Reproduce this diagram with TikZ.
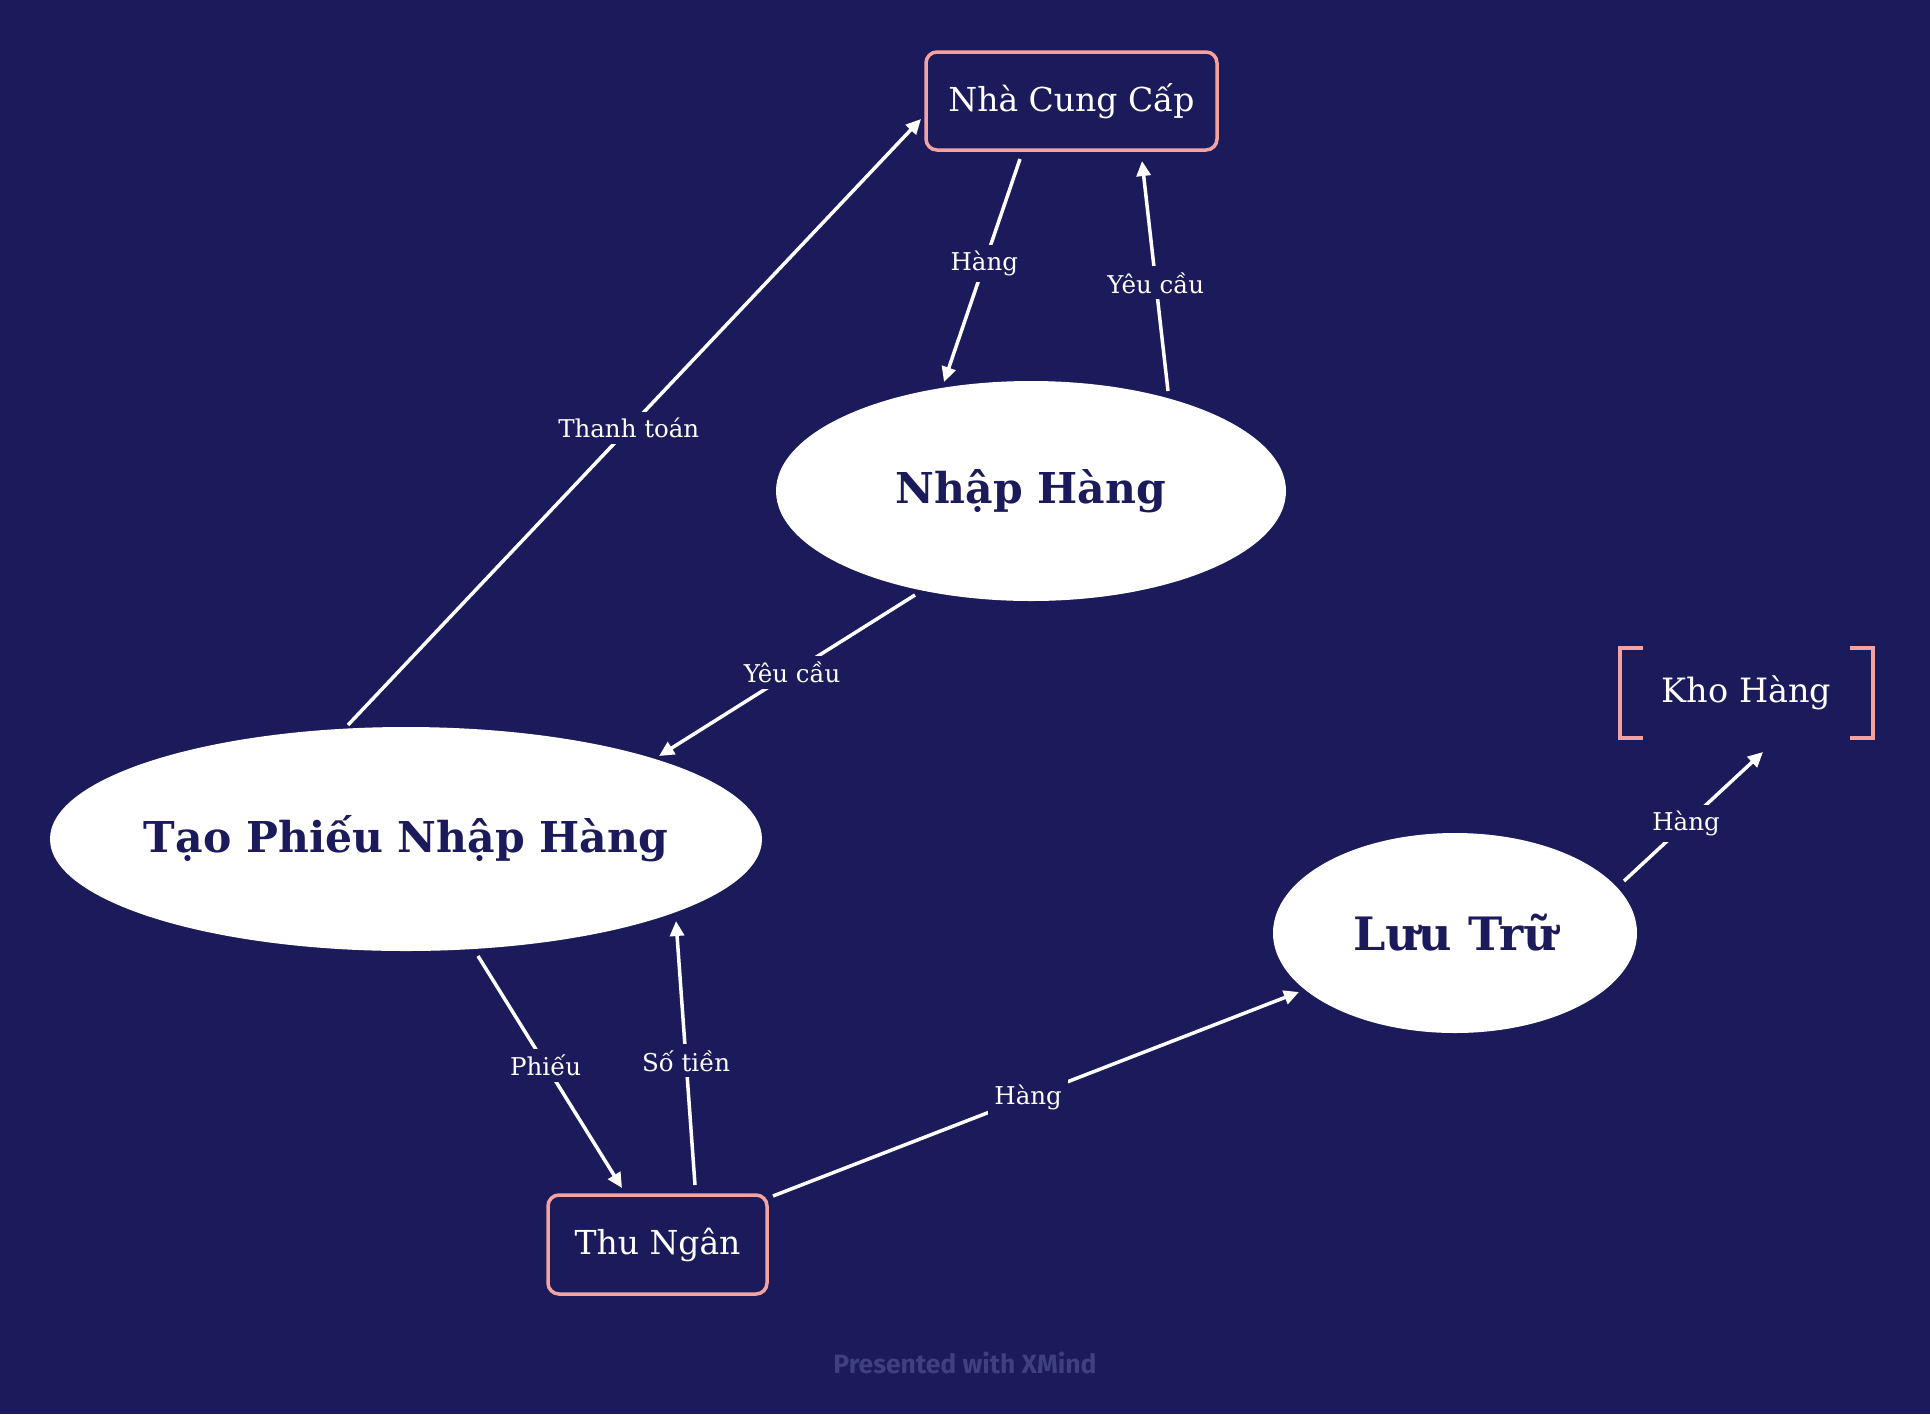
\documentclass[tikz,border=0pt]{standalone}
\usepackage{fontspec}
\setmainfont{DejaVu Serif}
\newfontfamily\wmfont{Fira Sans}
\usetikzlibrary{arrows.meta,shapes.geometric}
\definecolor{bgc}{RGB}{27,26,90}
\definecolor{pinkc}{RGB}{245,162,162}
\definecolor{wmc}{RGB}{62,64,128}
\begin{document}
\begin{tikzpicture}[x=1pt,y=-1pt,
  ell/.style={ellipse,fill=white,draw=none,inner sep=0pt,text=bgc,font=\fontsize{42.5}{50}\selectfont\bfseries},
  box/.style={rectangle,rounded corners=11pt,draw=pinkc,line width=3.5pt,fill=bgc,text=white,inner sep=0pt,font=\fontsize{33}{40}\selectfont},
  kho/.style={rectangle,draw=none,text=white,inner sep=0pt,font=\fontsize{33.5}{40}\selectfont},
  bracket/.style={draw=pinkc,line width=3.5pt},
  edge/.style={draw=white,line width=3.5pt,-{Triangle[length=15pt,width=14pt]}},
  lbl/.style={fill=bgc,text=white,inner sep=6pt,font=\fontsize{24.5}{29}\selectfont}]
\useasboundingbox (0,0) rectangle (1930,1414);
\fill[bgc] (0,0) rectangle (1930,1414);

\node[ell,minimum width=712pt,minimum height=224pt] (tao) at (406,839) {\makebox[0pt]{Tạo Phiếu Nhập Hàng}};
\node[ell,minimum width=510pt,minimum height=220pt] (nhap) at (1031,491) {\makebox[0pt]{Nhập Hàng}};
\node[ell,minimum width=364pt,minimum height=200pt,font=\fontsize{46}{54}\selectfont\bfseries] (luu) at (1455,933) {\makebox[0pt]{Lưu Trữ}};
\node[box,minimum width=291pt,minimum height=98pt] (ncc) at (1071.5,101) {Nhà Cung Cấp};
\node[box,minimum width=219pt,minimum height=99pt] (thu) at (657.5,1244.5) {Thu Ngân};
\node[kho,minimum width=253pt,minimum height=90pt] (kho) at (1746.5,693) {Kho Hàng};

\draw[bracket] ([xshift=23pt]kho.north west) -- (kho.north west) -- (kho.south west) -- ([xshift=23pt]kho.south west);
\draw[bracket] ([xshift=-23pt]kho.north east) -- (kho.north east) -- (kho.south east) -- ([xshift=-23pt]kho.south east);

\draw[edge] ([shift={(-58,-114)}]tao.center) -- node[lbl,pos=0.49]{Thanh toán} ([shift={(-150.5,18)}]ncc.center);
\draw[edge] ([shift={(-51.5,58)}]ncc.center) -- node[lbl,pos=0.47]{Hàng} ([shift={(-87,-109)}]nhap.center);
\draw[edge] ([shift={(137,-100)}]nhap.center) -- node[lbl,pos=0.47]{Yêu cầu} ([shift={(70.5,60)}]ncc.center);
\draw[edge] ([shift={(-116,104)}]nhap.center) -- node[lbl,pos=0.48]{Yêu cầu} ([shift={(253,-83)}]tao.center);
\draw[edge] ([shift={(72,117)}]tao.center) -- node[lbl,pos=0.47]{Phiếu} ([shift={(-35.5,-56.5)}]thu.center);
\draw[edge] ([shift={(37.5,-59.5)}]thu.center) -- node[lbl,pos=0.47]{Số tiền} ([shift={(270,82)}]tao.center);
\draw[edge] ([shift={(115.5,-48.5)}]thu.center) -- node[lbl,pos=0.485]{Hàng} ([shift={(-156,59)}]luu.center);
\draw[edge] ([shift={(169,-52)}]luu.center) -- node[lbl,pos=0.446]{Hàng} ([shift={(16.5,59)}]kho.center);

\node[text=wmc,font=\wmfont\bfseries\fontsize{26.5}{32}\selectfont] (wm) at (965,1363) {Presented with XMind};
\end{tikzpicture}
\end{document}
